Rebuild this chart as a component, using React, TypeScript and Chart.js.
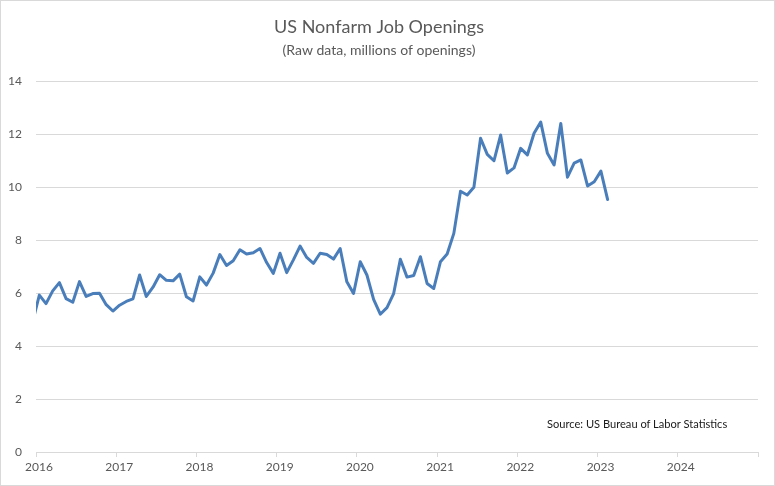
import React, { useEffect, useRef } from "react";
import { Chart, registerables } from "chart.js";

Chart.register(...registerables);

// Monthly US nonfarm job openings, raw (not seasonally adjusted), millions
const dec2015 = [4.92];
const y2016 = [5.92, 5.6, 6.08, 6.39, 5.79, 5.65, 6.43, 5.87, 5.98, 5.99, 5.56, 5.32];
const y2017 = [5.54, 5.68, 5.78, 6.68, 5.87, 6.22, 6.69, 6.48, 6.46, 6.71, 5.86, 5.7];
const y2018 = [6.61, 6.3, 6.75, 7.45, 7.04, 7.22, 7.63, 7.47, 7.52, 7.68, 7.15, 6.74];
const y2019 = [7.5, 6.77, 7.25, 7.77, 7.34, 7.12, 7.5, 7.45, 7.28, 7.68, 6.42, 5.98];
const y2020 = [7.18, 6.68, 5.76, 5.2, 5.45, 5.98, 7.27, 6.6, 6.66, 7.37, 6.36, 6.17];
const y2021 = [7.18, 7.47, 8.25, 9.84, 9.7, 9.99, 11.84, 11.23, 10.99, 11.96, 10.53, 10.72];
const y2022 = [11.46, 11.21, 12.03, 12.45, 11.27, 10.83, 12.4, 10.37, 10.9, 11.02, 10.04, 10.2];
const y2023 = [10.6, 9.53];

const firstMonthYear = 2015; // the series starts in December 2015
const firstMonthIndex = 11; // December (0-based)

const yTicks = [0, 2, 4, 6, 8, 10, 12, 14];
const xYears = [2016, 2017, 2018, 2019, 2020, 2021, 2022, 2023, 2024];

const TITLE = "US Nonfarm Job Openings";
const SUBTITLE = "(Raw data, millions of openings)";
const SOURCE = "Source: US Bureau of Labor Statistics";

export default function App() {
  const canvasRef = useRef<HTMLCanvasElement | null>(null);

  useEffect(() => {
    const values = [
      ...dec2015,
      ...y2016,
      ...y2017,
      ...y2018,
      ...y2019,
      ...y2020,
      ...y2021,
      ...y2022,
      ...y2023,
    ];
    // each monthly value sits in the middle of its month on a year-valued axis
    const points = values.map((v, i) => ({
      x: firstMonthYear + (firstMonthIndex + i + 0.5) / 12,
      y: v,
    }));

    const chart = new Chart(canvasRef.current as HTMLCanvasElement, {
      type: "line",
      data: {
        datasets: [
          {
            label: "Job openings",
            data: points,
            borderColor: "#4a7ebb",
            borderWidth: 3,
            pointRadius: 0,
            tension: 0,
            borderJoinStyle: "round",
            borderCapStyle: "round",
            clip: 0,
          },
        ],
      },
      options: {
        animation: false,
        responsive: false,
        layout: { padding: { left: 0, right: 17, top: 0, bottom: 8 } },
        plugins: {
          legend: { display: false },
          tooltip: { enabled: false },
          title: {
            display: true,
            text: TITLE,
            color: "#595959",
            font: { family: "Lato", size: 18, weight: "normal" },
            padding: { top: 16, bottom: 0 },
          },
          subtitle: {
            display: true,
            text: SUBTITLE,
            color: "#595959",
            font: { family: "Lato", size: 14, weight: "normal" },
            padding: { top: 4, bottom: 22.6 },
          },
        },
        scales: {
          x: {
            type: "linear",
            min: xYears[0],
            max: xYears[xYears.length - 1] + 1,
            afterBuildTicks: (scale: any) => {
              scale.ticks = [...xYears, xYears[xYears.length - 1] + 1].map((v) => ({ value: v }));
            },
            afterFit: (scale: any) => {
              scale.height = 26;
            },
            ticks: {
              autoSkip: false,
              maxRotation: 0,
              padding: 3,
              labelOffset: 3,
              color: "#595959",
              font: { family: "Lato", size: 12 },
              callback: (v: any) => (xYears.includes(Number(v)) ? String(v) : ""),
            },
            grid: {
              display: true,
              drawOnChartArea: false,
              drawTicks: true,
              tickLength: 5,
              color: "#d9d9d9",
            },
            border: { display: true, color: "#d9d9d9", width: 1 },
          },
          y: {
            min: yTicks[0],
            max: yTicks[yTicks.length - 1],
            afterBuildTicks: (scale: any) => {
              scale.ticks = yTicks.map((v) => ({ value: v }));
            },
            afterFit: (scale: any) => {
              scale.width = 36;
            },
            ticks: {
              padding: 14,
              color: "#595959",
              font: { family: "Lato", size: 12 },
            },
            grid: { color: "#d9d9d9", drawTicks: false, lineWidth: 1 },
            border: { display: false },
          },
        },
      },
    });
    return () => chart.destroy();
  }, []);

  return (
    <div
      style={{
        position: "absolute",
        left: 0,
        top: 0,
        width: 775,
        height: 486,
        background: "#ffffff",
      }}
    >
      <canvas ref={canvasRef} width={775} height={486} style={{ display: "block" }} />
      <div
        style={{
          position: "absolute",
          left: 547,
          top: 416,
          fontFamily: "Lato",
          fontSize: 11.1,
          color: "#1a1a1a",
          whiteSpace: "nowrap",
          lineHeight: "16px",
        }}
      >
        {SOURCE}
      </div>
      <div
        style={{
          position: "absolute",
          left: 0,
          top: 0,
          width: 775,
          height: 486,
          boxSizing: "border-box",
          border: "1px solid #d9d9d9",
          pointerEvents: "none",
        }}
      />
    </div>
  );
}
